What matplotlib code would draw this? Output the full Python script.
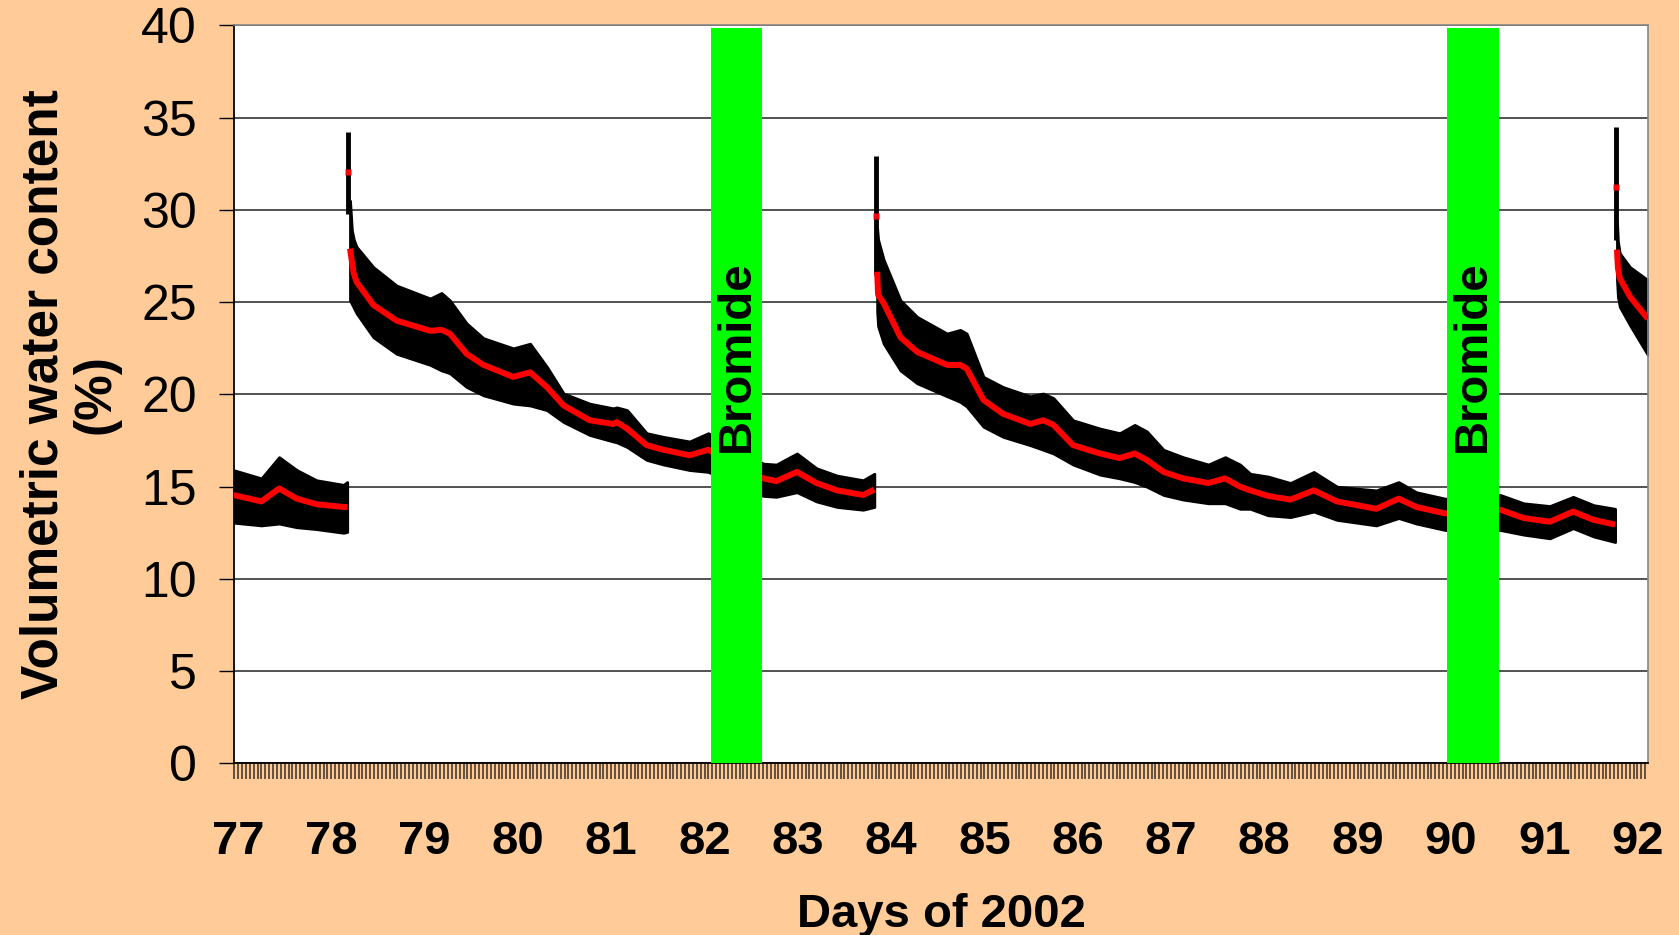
import matplotlib
matplotlib.use("Agg")
import matplotlib.pyplot as plt
import numpy as np

# spikes at the start of each wetting event (single readings)
spike_day = [78.18, 83.84, 91.77]
spike_mean = [32.07, 29.65, 31.25]
spike_hi = [34.2, 32.9, 34.5]
spike_lo = [29.8, 26.5, 28.35]

# segment 1
day1 = [76.95, 77.25, 77.44, 77.63, 77.84, 78.13, 78.17]
mean1 = [14.55, 14.2, 14.9, 14.35, 14.05, 13.9, 13.9]
hi1 = [15.9, 15.45, 16.6, 15.9, 15.35, 15.1, 15.25]
lo1 = [13.05, 12.9, 13.0, 12.8, 12.7, 12.5, 12.55]

# segment 2
day2 = [78.20, 78.22, 78.24, 78.27, 78.45, 78.70, 79.06, 79.18, 79.27, 79.45,
        79.63, 79.95, 80.13, 80.31, 80.49, 80.77, 81.02, 81.06, 81.17, 81.38,
        81.56, 81.84, 82.04, 82.63, 82.77, 82.99, 83.20, 83.42, 83.70, 83.82]
mean2 = [27.9, 27.2, 26.55, 26.1, 24.85, 24.0, 23.45, 23.5, 23.3, 22.2,
         21.6, 20.95, 21.2, 20.4, 19.4, 18.6, 18.4, 18.5, 18.15, 17.25,
         17.0, 16.7, 17.0, 15.45, 15.3, 15.8, 15.2, 14.8, 14.55, 14.85]
hi2 = [30.5, 28.9, 28.4, 28.0, 26.9, 25.9, 25.2, 25.5, 25.1, 23.85,
       23.05, 22.5, 22.75, 21.5, 20.05, 19.5, 19.25, 19.3, 19.15, 17.9,
       17.7, 17.45, 17.9, 16.25, 16.2, 16.8, 16.0, 15.6, 15.35, 15.7]
lo2 = [25.1, 24.9, 24.7, 24.4, 23.1, 22.2, 21.6, 21.3, 21.15, 20.4,
       19.95, 19.5, 19.4, 19.15, 18.5, 17.8, 17.45, 17.4, 17.15, 16.45,
       16.2, 15.9, 15.8, 14.5, 14.45, 14.7, 14.2, 13.9, 13.75, 13.9]

# segment 3
day3 = [83.85, 83.86, 83.92, 84.10, 84.28, 84.60, 84.74, 84.81, 84.99, 85.20,
        85.49, 85.63, 85.74, 85.95, 86.24, 86.45, 86.61, 86.74, 86.92, 87.13,
        87.40, 87.58, 87.74, 87.85, 88.04, 88.28, 88.53, 88.78, 89.20, 89.44,
        89.63, 89.94, 90.53, 90.78, 91.06, 91.31, 91.53, 91.76]
mean3 = [26.65, 25.4, 24.95, 23.1, 22.3, 21.6, 21.6, 21.4, 19.7, 18.95,
         18.4, 18.6, 18.35, 17.25, 16.8, 16.55, 16.8, 16.45, 15.8, 15.45,
         15.2, 15.45, 15.0, 14.8, 14.5, 14.3, 14.8, 14.2, 13.8, 14.35,
         13.9, 13.55, 13.75, 13.3, 13.1, 13.65, 13.2, 12.95]
hi3 = [29.0, 28.4, 27.3, 25.1, 24.2, 23.3, 23.5, 23.3, 20.95, 20.4,
       19.9, 20.05, 19.8, 18.6, 18.15, 17.9, 18.35, 18.0, 17.0, 16.6,
       16.2, 16.6, 16.2, 15.7, 15.55, 15.2, 15.8, 15.0, 14.8, 15.25,
       14.7, 14.35, 14.55, 14.1, 13.95, 14.45, 14.0, 13.8]
lo3 = [24.5, 23.7, 22.75, 21.3, 20.6, 19.9, 19.6, 19.35, 18.25, 17.7,
       17.25, 17.0, 16.8, 16.2, 15.65, 15.45, 15.25, 15.0, 14.55, 14.3,
       14.1, 14.1, 13.8, 13.8, 13.45, 13.35, 13.65, 13.2, 12.9, 13.3,
       13.0, 12.65, 12.65, 12.4, 12.2, 12.75, 12.3, 12.0]

# segment 4
day4 = [91.78, 91.79, 91.81, 91.92, 92.11]
mean4 = [27.85, 26.85, 26.3, 25.3, 24.1]
hi4 = [29.4, 28.3, 27.65, 26.9, 26.2]
lo4 = [26.2, 25.3, 24.75, 23.75, 22.15]

# bromide application windows (day start, day end)
bromide_start = [82.07, 89.955]
bromide_end = [82.62, 90.515]

day_labels = list(range(77, 93))

PEACH = "#FFCC99"
plt.rcParams["font.family"] = ["Liberation Sans", "DejaVu Sans"]

fig = plt.figure(figsize=(16.79, 9.35), dpi=100, facecolor=PEACH)
ax = fig.add_axes([0.1394, 0.1835, 0.8421, 0.7893])
ax.set_facecolor("white")

segments = [(day1, mean1, hi1, lo1), (day2, mean2, hi2, lo2),
            (day3, mean3, hi3, lo3), (day4, mean4, hi4, lo4)]
for d, m, h, l in segments:
    ax.fill_between(d, l, h, color="black", lw=2, edgecolor="black", zorder=2)
    ax.plot(d, m, color="red", lw=4.3, solid_capstyle="butt", zorder=3)

ax.vlines(spike_day, spike_lo, spike_hi, color="black", lw=3.5, zorder=2)
ax.plot(spike_day, spike_mean, "s", color="red", ms=5, mec="none", zorder=3)

for s, e in zip(bromide_start, bromide_end):
    ax.bar((s + e) / 2, 39.85, width=e - s, color="#00FF00", zorder=4)
    ax.text((s + e) / 2, 22.05, "Bromide", rotation=90, ha="center", va="center",
            fontsize=34, fontweight="bold", color="black", zorder=5)

ax.set_xlim(76.957, 92.112)
ax.set_ylim(0, 40)
ax.set_yticks(range(0, 41, 5))
ax.set_xticks(day_labels)
ax.set_xticks(np.arange(77 - 1 / 24, 92.12, 1 / 24), minor=True)
ax.tick_params(axis="y", labelsize=36, length=10.8, width=1, pad=16, color="black")
ax.tick_params(axis="x", which="major", labelsize=34, length=11.5, width=1.1,
               pad=29, color="#3a2f24")
ax.tick_params(axis="x", which="minor", length=11.5, width=1.1, color="#3a2f24")
for lab in ax.get_xticklabels():
    lab.set_fontweight("bold")

ax.grid(axis="y", color="#444444", lw=1.3, zorder=1)
ax.set_axisbelow(True)
for side in ["top", "right"]:
    ax.spines[side].set_color("#888888")
    ax.spines[side].set_linewidth(1.2)
for side in ["left", "bottom"]:
    ax.spines[side].set_color("black")
    ax.spines[side].set_linewidth(1.3)

ax.set_xlabel("Days of 2002", fontsize=34, fontweight="bold")
ax.xaxis.set_label_coords(0.5, -0.175)
ax.xaxis.label.set_va("top")
fig.text(70 / 1679, 1 - 394 / 935, "Volumetric water content\n(%)", rotation=90,
         ha="center", va="center", fontsize=37, fontweight="bold",
         multialignment="center", linespacing=1.1)

fig.savefig("out.png", dpi=100, facecolor=PEACH)
